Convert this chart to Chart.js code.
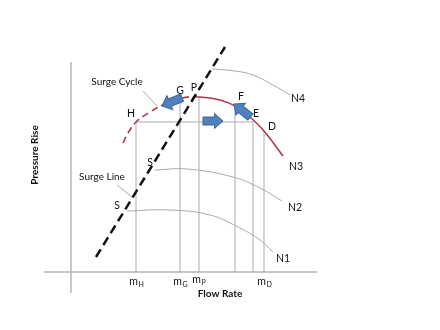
<!DOCTYPE html>
<html lang="en">
<head>
<meta charset="UTF-8">
<title>Compressor Surge</title>
<script src="https://cdn.jsdelivr.net/npm/chart.js"></script>
<style>
  body { margin: 0; background: #fff; }
  canvas { display: block; }
</style>
</head>
<body>
<canvas id="surgeChart" width="440" height="330"></canvas>
<script>
// speed lines: flow rate vs pressure rise (arbitrary units)
const n1Flow = [2.8, 4.95, 6.95, 8.45, 9.45, 10.1];
const n1Rise = [3.05, 3.1, 2.85, 2.2, 1.6, 1.0];
const n2Flow = [4.2, 5.8, 8.1, 9.45, 10.55];
const n2Rise = [5.1, 5.15, 4.75, 4.2, 3.55];
const n3Flow = [2.6, 2.85, 3.25, 3.95, 4.6, 5.55, 6.4, 7.45, 8.3, 8.95, 9.65, 10.6];
const n3Rise = [6.45, 6.95, 7.5, 8.0, 8.35, 8.7, 8.75, 8.6, 8.25, 7.75, 7.05, 5.8];
const n3SurgeIndex = 6; // P, the dashed part ends here
const n4Flow = [7.05, 8.2, 9.1, 10.1, 10.95];
const n4Rise = [10.15, 10.05, 9.85, 9.35, 8.85];
const surgeFlow = [1.25, 7.7];
const surgeRise = [0.75, 11.25];

// drop lines from the N3 curve to the flow axis
const dropFlow = [3.25, 5.45, 6.4, 8.2, 9.1, 9.65];
const dropTop = [7.5, 8.7, 8.75, 8.35, 7.55, 7.05];
const cycleFlow = [3.25, 9.1];
const cycleRise = [7.5, 7.5];

// tick labels m with subscript
const tickSub = ['H', 'G', 'P', 'D'];
const tickFlow = [3.25, 5.45, 6.4, 9.65];
const tickRise = [-0.5, -0.5, -0.4, -0.5];

// point letters
const letterText = ['G', 'P', 'H', 'F', 'E', 'D', 'S', 'S'];
const letterFlow = [5.45, 6.15, 3.0, 8.5, 9.25, 10.05, 3.95, 2.3];
const letterRise = [9.05, 9.2, 7.9, 8.75, 7.9, 7.25, 5.45, 3.3];

const speedText = ['N1', 'N2', 'N3', 'N4'];
const speedFlow = [10.6, 11.2, 11.25, 11.35];
const speedRise = [0.65, 3.2, 5.25, 8.65];

const noteText = ['Surge Cycle', 'Surge Line'];
const noteFlow = [2.3, 1.55];
const noteRise = [9.5, 4.75];
const pointerFrom = [[3.6, 9.05], [2.3, 4.35]];
const pointerTo = [[4.3, 8.3], [3.05, 3.75]];

// blue block arrows (tail -> tip)
const arrowFrom = [[5.55, 8.72], [6.6, 7.55], [8.97, 7.75]];
const arrowTo = [[4.55, 8.3], [7.6, 7.55], [8.15, 8.4]];

function pts(xs, ys) {
  return xs.map((x, i) => ({ x: x, y: ys[i] }));
}

const grey = '#ababab';
const datasets = [];

datasets.push({
  data: pts(surgeFlow, surgeRise),
  borderColor: '#111', borderWidth: 2.5, borderDash: [9, 5]
});
datasets.push({
  data: pts(n3Flow, n3Rise),
  borderColor: '#b03a4a', borderWidth: 1.6, tension: 0.4,
  segment: { borderDash: ctx => ctx.p1DataIndex <= n3SurgeIndex ? [7, 4] : undefined }
});
[[n1Flow, n1Rise], [n2Flow, n2Rise], [n4Flow, n4Rise]].forEach(c => {
  datasets.push({ data: pts(c[0], c[1]), borderColor: grey, borderWidth: 1, tension: 0.4 });
});
dropFlow.forEach((x, i) => {
  datasets.push({ data: [{ x: x, y: 0 }, { x: x, y: dropTop[i] }], borderColor: grey, borderWidth: 1 });
});
datasets.push({ data: pts(cycleFlow, cycleRise), borderColor: grey, borderWidth: 1 });
pointerFrom.forEach((p, i) => {
  datasets.push({ data: [{ x: p[0], y: p[1] }, { x: pointerTo[i][0], y: pointerTo[i][1] }], borderColor: grey, borderWidth: 1 });
});
// axes
datasets.push({ data: [{ x: -1.35, y: 0 }, { x: 12.3, y: 0 }], borderColor: '#b5b5b5', borderWidth: 1.5 });
datasets.push({ data: [{ x: 0, y: -1.05 }, { x: 0, y: 10.5 }], borderColor: '#b5b5b5', borderWidth: 1.5 });

const annotate = {
  id: 'annotate',
  beforeDraw(chart) {
    const c = chart.ctx;
    c.save();
    c.fillStyle = '#fff';
    c.fillRect(0, 0, chart.width, chart.height);
    c.restore();
  },
  afterDatasetsDraw(chart) {
    const c = chart.ctx;
    const sx = chart.scales.x, sy = chart.scales.y;
    const px = v => sx.getPixelForValue(v);
    const py = v => sy.getPixelForValue(v);
    c.save();

    // arrows
    arrowFrom.forEach((a, i) => {
      const x0 = px(a[0]), y0 = py(a[1]);
      const x1 = px(arrowTo[i][0]), y1 = py(arrowTo[i][1]);
      const len = Math.hypot(x1 - x0, y1 - y0);
      const ang = Math.atan2(y1 - y0, x1 - x0);
      const head = 8.5, w1 = 4, w2 = 7.5;
      c.save();
      c.translate(x0, y0);
      c.rotate(ang);
      c.beginPath();
      c.moveTo(0, -w1);
      c.lineTo(len - head, -w1);
      c.lineTo(len - head, -w2);
      c.lineTo(len, 0);
      c.lineTo(len - head, w2);
      c.lineTo(len - head, w1);
      c.lineTo(0, w1);
      c.closePath();
      c.fillStyle = '#4f81bd';
      c.fill();
      c.strokeStyle = '#3a659a';
      c.lineWidth = 1;
      c.stroke();
      c.restore();
    });

    c.fillStyle = '#111';
    c.textAlign = 'center';
    c.textBaseline = 'middle';
    c.font = '10.5px Lato';
    letterText.forEach((t, i) => c.fillText(t, px(letterFlow[i]), py(letterRise[i])));
    speedText.forEach((t, i) => c.fillText(t, px(speedFlow[i]), py(speedRise[i])));
    c.font = '10px Lato';
    noteText.forEach((t, i) => c.fillText(t, px(noteFlow[i]), py(noteRise[i])));

    // m with subscript
    tickSub.forEach((s, i) => {
      const x = px(tickFlow[i]), y = py(tickRise[i]);
      c.font = '10.5px Lato';
      c.textAlign = 'right';
      c.fillText('m', x + 2, y);
      c.font = '7px Lato';
      c.textAlign = 'left';
      c.fillText(s, x + 2.5, y + 3);
    });

    c.textAlign = 'center';
    c.font = 'bold 10px Lato';
    c.fillText('Flow Rate', px(7.45), py(-1.1));
    c.translate(px(-1.8), py(5.85));
    c.rotate(-Math.PI / 2);
    c.fillText('Pressure Rise', 0, 0);
    c.restore();
  }
};

new Chart(document.getElementById('surgeChart'), {
  type: 'scatter',
  data: { datasets: datasets },
  options: {
    responsive: false,
    animation: false,
    showLine: true,
    layout: { padding: 0 },
    elements: { point: { radius: 0, hoverRadius: 0 } },
    plugins: { legend: { display: false }, tooltip: { enabled: false } },
    scales: {
      x: { type: 'linear', display: false, min: -3.55, max: 18.45 },
      y: { type: 'linear', display: false, min: -2.9, max: 13.6 }
    }
  },
  plugins: [annotate]
});
</script>
</body>
</html>
